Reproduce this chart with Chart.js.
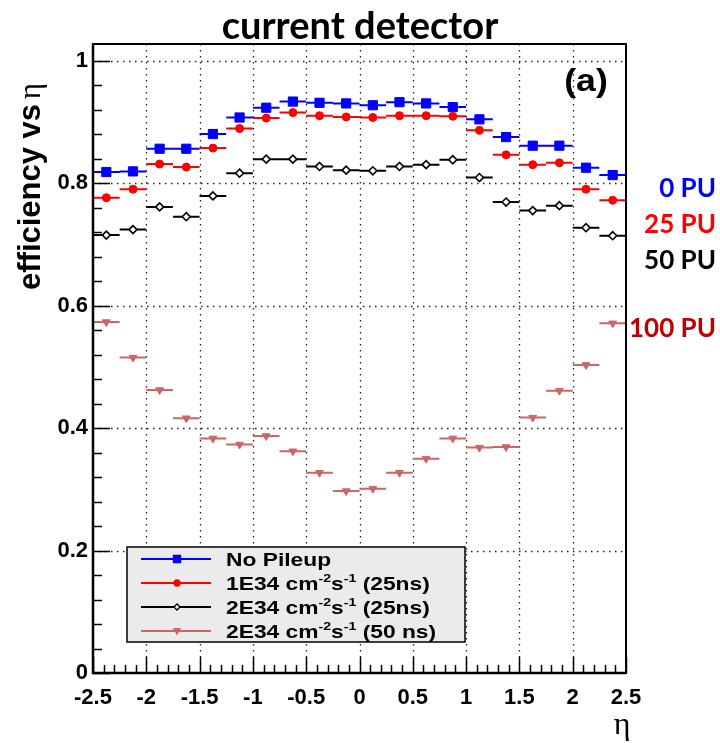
<!DOCTYPE html>
<html>
<head>
<meta charset="utf-8">
<title>efficiency vs eta</title>
<script src="https://cdn.jsdelivr.net/npm/chart.js@4.4.1/dist/chart.umd.min.js"></script>
<style>
  body { margin: 0; background: #fff; }
  canvas { display: block; }
</style>
</head>
<body>
<canvas id="effChart" width="720" height="743"></canvas>
<script>
// eta bin centres, bins are 0.25 wide
const etaBins = [-2.375, -2.125, -1.875, -1.625, -1.375, -1.125, -0.875, -0.625, -0.375, -0.125,
                 0.125, 0.375, 0.625, 0.875, 1.125, 1.375, 1.625, 1.875, 2.125, 2.375];
const binHalfWidth = 0.125;

const xTickValues = [-2.5, -2, -1.5, -1, -0.5, 0, 0.5, 1, 1.5, 2, 2.5];
const yTickValues = [0, 0.2, 0.4, 0.6, 0.8, 1];
const yMax = 1.027;

// efficiency per bin
const effNoPileup = [0.818, 0.819, 0.856, 0.856, 0.880, 0.907, 0.923, 0.933, 0.931, 0.930,
                     0.927, 0.932, 0.930, 0.924, 0.904, 0.875, 0.861, 0.861, 0.825, 0.813];
const eff1E34_25ns = [0.776, 0.790, 0.831, 0.826, 0.857, 0.889, 0.906, 0.915, 0.910, 0.908,
                      0.907, 0.910, 0.910, 0.909, 0.886, 0.846, 0.830, 0.833, 0.790, 0.772];
const eff2E34_25ns = [0.715, 0.724, 0.761, 0.745, 0.779, 0.816, 0.839, 0.839, 0.827, 0.821,
                      0.820, 0.827, 0.830, 0.838, 0.809, 0.769, 0.755, 0.763, 0.727, 0.714];
const eff2E34_50ns = [0.573, 0.515, 0.462, 0.416, 0.383, 0.373, 0.387, 0.362, 0.327, 0.297,
                      0.301, 0.327, 0.350, 0.383, 0.368, 0.369, 0.417, 0.461, 0.503, 0.571];

const seriesLabels = ['No Pileup', '1E34 cm^{-2}s^{-1} (25ns)', '2E34 cm^{-2}s^{-1} (25ns)', '2E34 cm^{-2}s^{-1} (50 ns)'];

// pileup labels on the right hand side
const puLabels = ['0 PU', '25 PU', '50 PU', '100 PU'];
const puColors = ['#0000ff', '#ff0000', '#000000', '#c00000'];

const styles = [
    { color: '#0000ff', fill: '#0000ff', shape: 'rect', radius: 6.5, rotation: 0 },
    { color: '#ff0000', fill: '#ff0000', shape: 'circle', radius: 4, rotation: 0 },
    { color: '#000000', fill: '#ffffff', shape: 'rectRot', radius: 4, rotation: 0 },
    { color: '#cc6666', fill: '#cc6666', shape: 'triangle', radius: 4.5, rotation: 180 }
];

const SANS = '"Liberation Sans", Arial, Helvetica, sans-serif';

// each bin becomes a short horizontal segment with the marker in the middle
function binSegments(values) {
    const pts = [];
    etaBins.forEach((c, i) => {
        pts.push({ x: c - binHalfWidth, y: values[i] });
        pts.push({ x: c, y: values[i] });
        pts.push({ x: c + binHalfWidth, y: values[i] });
        pts.push({ x: c, y: null });
    });
    return pts;
}

function makeDataset(values, i) {
    const s = styles[i];
    return {
        label: seriesLabels[i],
        data: binSegments(values),
        borderColor: s.color,
        borderWidth: 2,
        spanGaps: false,
        pointStyle: s.shape,
        rotation: s.rotation,
        pointBackgroundColor: s.fill,
        pointBorderColor: s.color,
        pointBorderWidth: i === 2 ? 1.6 : 1,
        pointRadius: ctx => (ctx.dataIndex % 4 === 1 ? s.radius : 0),
        order: 4 - i
    };
}

function stretchedText(ctx, text, x, y, sx, align) {
    ctx.save();
    ctx.translate(x, y);
    ctx.scale(sx, 1);
    ctx.textAlign = align;
    ctx.fillText(text, 0, 0);
    ctx.restore();
}

// draws "a^{b}c" style text, returns width
function drawRichText(ctx, text, x, y, size, sx) {
    const parts = text.split(/(\^\{[^}]*\})/).filter(p => p.length);
    let cx = x;
    parts.forEach(p => {
        let sup = false, t = p;
        if (p.startsWith('^{')) { sup = true; t = p.slice(2, -1); }
        const fs = sup ? size * 0.62 : size;
        ctx.font = 'bold ' + fs + 'px ' + SANS;
        ctx.save();
        ctx.translate(cx, sup ? y - size * 0.42 : y);
        ctx.scale(sx, 1);
        ctx.textAlign = 'left';
        ctx.fillText(t, 0, 0);
        ctx.restore();
        cx += ctx.measureText(t).width * sx;
    });
    return cx - x;
}

function drawMarker(ctx, s, x, y, r) {
    ctx.save();
    ctx.fillStyle = s.fill;
    ctx.strokeStyle = s.color;
    ctx.lineWidth = 1.4;
    ctx.beginPath();
    if (s.shape === 'rect') {
        ctx.rect(x - r, y - r, 2 * r, 2 * r);
    } else if (s.shape === 'circle') {
        ctx.arc(x, y, r, 0, Math.PI * 2);
    } else if (s.shape === 'rectRot') {
        ctx.moveTo(x, y - r); ctx.lineTo(x + r, y); ctx.lineTo(x, y + r); ctx.lineTo(x - r, y); ctx.closePath();
    } else {
        ctx.moveTo(x - r, y - r * 0.8); ctx.lineTo(x + r, y - r * 0.8); ctx.lineTo(x, y + r); ctx.closePath();
    }
    ctx.fill();
    ctx.stroke();
    ctx.restore();
}

// dotted grid at the major ticks
const gridPlugin = {
    id: 'rootGrid',
    beforeDatasetsDraw(chart) {
        const { ctx, chartArea: a, scales: { x, y } } = chart;
        ctx.save();
        ctx.strokeStyle = '#222';
        ctx.lineWidth = 1.3;
        ctx.setLineDash([1.5, 4.5]);
        xTickValues.slice(1, -1).forEach(v => {
            const px = Math.round(x.getPixelForValue(v)) + 0.5;
            ctx.beginPath(); ctx.moveTo(px, a.top); ctx.lineTo(px, a.bottom); ctx.stroke();
        });
        yTickValues.slice(1).forEach(v => {
            const py = Math.round(y.getPixelForValue(v)) + 0.5;
            ctx.beginPath(); ctx.moveTo(a.left, py); ctx.lineTo(a.right, py); ctx.stroke();
        });
        ctx.restore();
    }
};

// frame, inward ticks, legend box and labels
const decorPlugin = {
    id: 'rootDecor',
    afterDatasetsDraw(chart) {
        const { ctx, chartArea: a, scales: { x, y } } = chart;
        ctx.save();

        // frame
        ctx.strokeStyle = '#000';
        ctx.lineWidth = 2;
        ctx.strokeRect(a.left, a.top, a.right - a.left, a.bottom - a.top);
        ctx.lineWidth = 2.5;
        ctx.beginPath();
        ctx.moveTo(a.left, a.top); ctx.lineTo(a.left, a.bottom); ctx.lineTo(a.right, a.bottom);
        ctx.stroke();

        // ticks
        ctx.lineWidth = 1.5;
        for (let k = 0; k <= 50; k++) {
            const v = -2.5 + k * 0.1;
            const px = Math.round(x.getPixelForValue(v)) + 0.5;
            const len = k % 5 === 0 ? 16 : 8;
            ctx.beginPath(); ctx.moveTo(px, a.bottom); ctx.lineTo(px, a.bottom - len); ctx.stroke();
        }
        for (let k = 0; k <= 25; k++) {
            const v = k * 0.04;
            const py = Math.round(y.getPixelForValue(v)) + 0.5;
            const len = k % 5 === 0 ? 17 : 9;
            ctx.beginPath(); ctx.moveTo(a.left, py); ctx.lineTo(a.left + len, py); ctx.stroke();
        }

        // legend
        const lx = 127, ly = 547, lw = 338, lh = 95;
        ctx.fillStyle = '#ebebeb';
        ctx.fillRect(lx, ly, lw, lh);
        ctx.lineWidth = 1.5;
        ctx.strokeStyle = '#000';
        ctx.strokeRect(lx, ly, lw, lh);
        const rows = [559, 583, 607, 631];
        seriesLabels.forEach((lab, i) => {
            const s = styles[i];
            ctx.strokeStyle = s.color;
            ctx.lineWidth = 2;
            ctx.beginPath(); ctx.moveTo(141, rows[i]); ctx.lineTo(211, rows[i]); ctx.stroke();
            drawMarker(ctx, s, 177, rows[i], i === 0 ? 3.5 : 3);
            ctx.fillStyle = '#000';
            drawRichText(ctx, lab, 226, rows[i] + 7, 19, 1.2);
        });

        // panel tag
        ctx.fillStyle = '#000';
        ctx.font = 'bold 31px ' + SANS;
        stretchedText(ctx, '(a)', 586, 91, 1.15, 'center');

        ctx.restore();
    },
    afterDraw(chart) {
        const ctx = chart.ctx;
        ctx.save();

        // title
        ctx.fillStyle = '#000';
        ctx.font = 'bold 38px Lato, "Open Sans", sans-serif';
        ctx.textAlign = 'center';
        ctx.textBaseline = 'alphabetic';
        ctx.fillText('current detector', 360, 39);

        // y axis title
        ctx.save();
        ctx.translate(40, 290);
        ctx.rotate(-Math.PI / 2);
        ctx.font = 'bold 31px ' + SANS;
        ctx.textAlign = 'left';
        const part = 'efficiency vs ';
        ctx.fillText(part, 0, 0);
        const w = ctx.measureText(part).width;
        ctx.font = '31px "Liberation Serif", "DejaVu Serif", serif';
        ctx.fillText('\u03b7', w - 4, 0);
        ctx.restore();

        // x axis title
        ctx.font = '32px "Liberation Serif", "DejaVu Serif", serif';
        ctx.textAlign = 'center';
        ctx.fillText('\u03b7', 622, 734);

        // pileup labels
        ctx.font = 'bold 26px Lato, "Open Sans", sans-serif';
        ctx.textAlign = 'right';
        const baselines = [197, 233, 269, 337];
        puLabels.forEach((t, i) => {
            ctx.fillStyle = puColors[i];
            ctx.fillText(t, 716, baselines[i]);
        });
        ctx.restore();
    }
};

const tickFont = { family: SANS, size: 22, weight: 'bold' };

new Chart(document.getElementById('effChart'), {
    type: 'line',
    data: {
        datasets: [
            makeDataset(effNoPileup, 0),
            makeDataset(eff1E34_25ns, 1),
            makeDataset(eff2E34_25ns, 2),
            makeDataset(eff2E34_50ns, 3)
        ]
    },
    options: {
        responsive: false,
        animation: false,
        devicePixelRatio: 1,
        events: [],
        layout: { padding: { left: 0, top: 44, right: 94, bottom: 0 } },
        plugins: {
            legend: { display: false },
            tooltip: { enabled: false },
            title: { display: false }
        },
        scales: {
            x: {
                type: 'linear',
                min: -2.5,
                max: 2.5,
                grid: { display: false, drawTicks: false },
                border: { display: false },
                afterBuildTicks: s => { s.ticks = xTickValues.map(v => ({ value: v })); },
                afterFit: s => { s.height = 70; },
                ticks: {
                    color: '#000',
                    font: tickFont,
                    padding: 12,
                    maxRotation: 0,
                    autoSkip: false,
                    callback: v => String(v)
                }
            },
            y: {
                type: 'linear',
                min: 0,
                max: yMax,
                grid: { display: false, drawTicks: false },
                border: { display: false },
                afterBuildTicks: s => { s.ticks = yTickValues.map(v => ({ value: v })); },
                afterFit: s => { s.width = 93; },
                ticks: {
                    color: '#000',
                    font: tickFont,
                    padding: 5,
                    callback: v => String(v)
                }
            }
        }
    },
    plugins: [gridPlugin, decorPlugin]
});
</script>
</body>
</html>
